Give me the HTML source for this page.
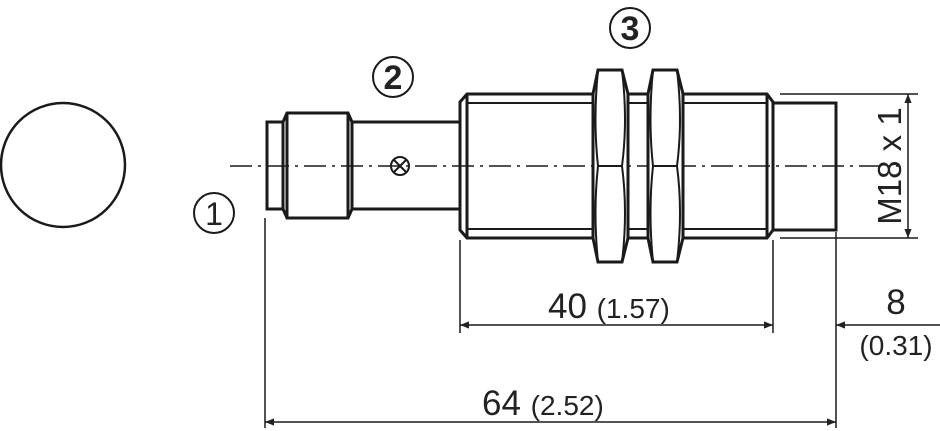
<!DOCTYPE html>
<html><head><style>
html,body{margin:0;padding:0;background:#fff;}
svg{display:block;}
text{font-family:"Liberation Sans",sans-serif;fill:#222;}
</style></head><body>
<svg width="940" height="431" viewBox="0 0 940 431" xmlns="http://www.w3.org/2000/svg">
<defs>
<marker id="a" viewBox="0 0 10 10" refX="10" refY="5" markerWidth="20" markerHeight="9" markerUnits="userSpaceOnUse" orient="auto-start-reverse"><path d="M0,1 L10,5 L0,9 z" fill="#222"/></marker>
</defs>
<g fill="none" stroke="#1a1a1a">
<circle cx="63" cy="165" r="62" stroke-width="2.5"/>
<line x1="230" y1="166" x2="900" y2="166" stroke-width="1.5" stroke-dasharray="22,6,3,6"/>
<g stroke-width="3">
<rect x="267" y="122" width="16" height="87"/>
<path d="M283,122 L287,113 L348,113 L352,122 L352,209 L348,218 L287,218 L283,209"/>
<line x1="287" y1="113" x2="287" y2="218"/>
<line x1="348" y1="113" x2="348" y2="218"/>
<line x1="352" y1="122" x2="460" y2="122"/>
<line x1="352" y1="209" x2="460" y2="209"/>
<circle cx="400" cy="166" r="9" stroke-width="2"/>
<path d="M394,160 L406,172 M406,160 L394,172" stroke-width="2"/>
<path d="M460,102 L467,94 L767,94 L773,102 L773,230 L767,238 L467,238 L460,230 Z"/>
<line x1="467" y1="94" x2="467" y2="238"/>
<line x1="767" y1="94" x2="767" y2="238"/>
<line x1="467" y1="103" x2="767" y2="103" stroke-width="2"/>
<line x1="467" y1="229" x2="767" y2="229" stroke-width="2"/>
<rect x="773" y="103" width="63" height="127"/>
<path d="M598,70 L622,70 L628,94 L628,238 L622,262 L598,262 L593,238 L593,94 Z" fill="#fff"/>
<path d="M598,70 Q593,120 598,166 Q593,212 598,262 M622,70 Q628,120 622,166 Q628,212 622,262 M598,166 L622,166" stroke-width="2"/>
<path d="M653,70 L677,70 L683,94 L683,238 L677,262 L653,262 L648,238 L648,94 Z" fill="#fff"/>
<path d="M653,70 Q648,120 653,166 Q648,212 653,262 M677,70 Q683,120 677,166 Q683,212 677,262 M653,166 L677,166" stroke-width="2"/>
</g>
<g stroke-width="1.5">
<line x1="265" y1="218" x2="265" y2="428"/>
<line x1="460" y1="240" x2="460" y2="333"/>
<line x1="773" y1="240" x2="773" y2="333"/>
<line x1="836" y1="232" x2="836" y2="428"/>
<line x1="780" y1="94" x2="918" y2="94"/>
<line x1="780" y1="238" x2="918" y2="238"/>
<line x1="908" y1="94" x2="908" y2="238" marker-start="url(#a)" marker-end="url(#a)"/>
<line x1="460" y1="325" x2="773" y2="325" marker-start="url(#a)" marker-end="url(#a)"/>
<line x1="940" y1="325" x2="836" y2="325" marker-end="url(#a)"/>
<line x1="265" y1="422" x2="836" y2="422" marker-start="url(#a)" marker-end="url(#a)"/>
</g>
<circle cx="630" cy="28" r="20" stroke-width="2"/>
<circle cx="393" cy="77" r="20" stroke-width="2"/>
<circle cx="214" cy="213" r="20" stroke-width="2"/>
</g>
<text x="630" y="40" font-size="34" font-weight="bold" text-anchor="middle">3</text>
<text x="393" y="89" font-size="34" font-weight="bold" text-anchor="middle">2</text>
<text x="214" y="225" font-size="32" text-anchor="middle">1</text>
<text x="548" y="318" font-size="35">40 <tspan font-size="28">(1.57)</tspan></text>
<text x="482" y="415" font-size="35">64 <tspan font-size="28">(2.52)</tspan></text>
<text x="896" y="314" font-size="35" text-anchor="middle">8</text>
<text x="896" y="355" font-size="28" text-anchor="middle">(0.31)</text>
<text transform="translate(901,166) rotate(-90)" font-size="33" text-anchor="middle">M18 x 1</text>
</svg>
</body></html>
